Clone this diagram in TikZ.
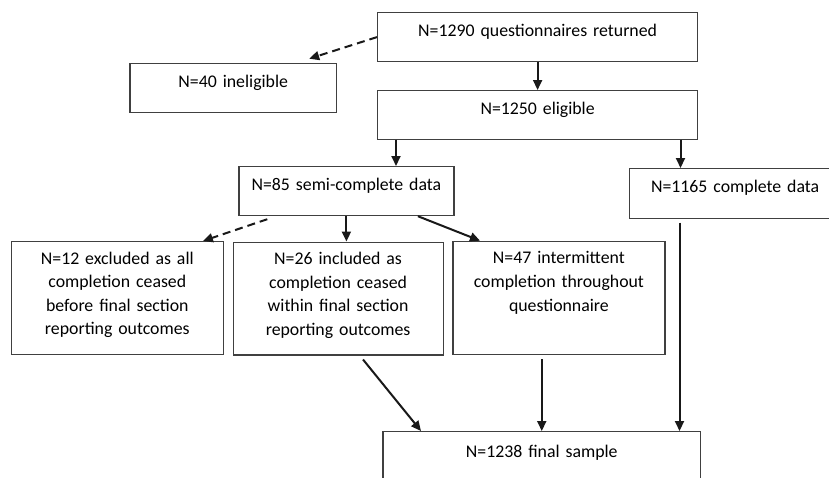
\documentclass[tikz,border=0pt]{standalone}
\usepackage{fontspec}
\setmainfont{Carlito}
\usetikzlibrary{arrows.meta}

\begin{document}
\begin{tikzpicture}[x=1pt, y=-1pt, >={Triangle[length=10pt,width=9pt]},
		box/.style={draw=black!75, line width=1.2pt, rectangle, anchor=north west, inner sep=0pt,
			align=center, text height=24pt, text=black, font=\fontsize{17.8}{23.6}\selectfont},
		link/.style={->, line width=2pt, draw=black!90},
		skip/.style={link, dash pattern=on 8pt off 5pt}]
	\useasboundingbox (0,0) rectangle (829,477);
	\clip (0,0) rectangle (829,477);

	% Nodes
	\node[box, text width=320pt, text depth=25pt] (ret) at (377,12) {N=1290 questionnaires returned};
	\node[box, text width=206.7pt, text depth=25pt] (inel) at (129.3,62.7) {N=40 ineligible};
	\node[box, text width=320pt, text depth=24.5pt] (elig) at (377,90) {N=1250 eligible};
	\node[box, text width=215pt, text depth=25pt] (semi) at (238.3,166) {N=85 semi-complete data};
	\node[box, text width=211pt, text depth=25.5pt] (comp) at (629,168) {N=1165 complete data};
	\node[box, text width=212pt, text height=22.5pt, text depth=90.5pt] (excl) at (10.7,241) {N=12 excluded as all\\completion ceased\\before final section\\reporting outcomes};
	\node[box, text width=210pt, text height=22.5pt, text depth=90.3pt] (incl) at (232.5,241.5) {N=26 included as\\completion ceased\\within final section\\reporting outcomes};
	\node[box, text width=212pt, text height=22.5pt, text depth=91pt] (inter) at (452.3,240.7) {N=47 intermittent\\completion throughout\\questionnaire};
	\node[box, text width=317.7pt, text height=25.7pt, text depth=24pt] (final) at (382.3,431) {N=1238 final sample};

	% Arrows
	\draw[link] (ret.south) -- (elig.north);
	\draw[skip] (ret.west) -- ([xshift=-28pt,yshift=4pt]inel.north east);
	\draw[link] ([xshift=19pt]elig.south west) -- ([xshift=19pt]elig.south west |- semi.north);
	\draw[link] ([xshift=-17.7pt]elig.south east) -- ([xshift=-17.7pt]elig.south east |- comp.north);
	\draw[skip] ([xshift=29pt,yshift=-3pt]semi.south west) -- ([xshift=-21pt]excl.north east);
	\draw[link] (semi.south) -- (semi.south |- incl.north);
	\draw[link] ([xshift=-36.6pt]semi.south east) -- ([xshift=27.7pt]inter.north west);
	\draw[link] ([xshift=130.5pt,yshift=-4pt]incl.south west) -- ([xshift=38.7pt]final.north west);
	\draw[link] ([yshift=-4pt]inter.south -| final.north) -- (final.north);
	\draw[link] ([xshift=50.5pt,yshift=-4pt]comp.south west) -- ([xshift=50.5pt]comp.south west |- final.north);
\end{tikzpicture}
\end{document}
